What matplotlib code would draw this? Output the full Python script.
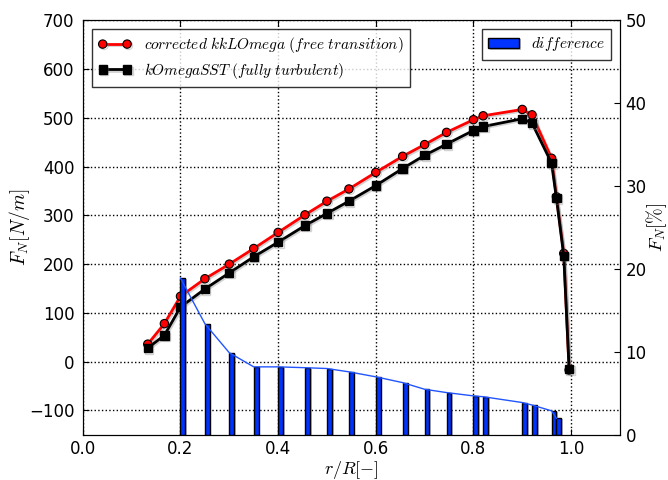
import matplotlib
matplotlib.use("Agg")
import matplotlib.pyplot as plt
import matplotlib.patheffects as pe

plt.rcParams['mathtext.fontset'] = 'cm'
plt.rcParams['font.family'] = ['DejaVu Sans']
plt.rcParams['font.size'] = 12

# Radial stations r/R
r_R = [0.133, 0.167, 0.2, 0.25, 0.3, 0.35, 0.4, 0.455, 0.5, 0.545, 0.6,
       0.655, 0.7, 0.745, 0.8, 0.82, 0.9, 0.92, 0.96, 0.97, 0.985, 0.996]
# Normal force per unit length [N/m]
fn_kkl = [36, 78, 134, 170, 200, 232, 265, 301, 329, 354, 388,
          421, 445, 470, 496, 504, 517, 506, 417, 338, 222, -17]
fn_sst = [28, 54, 112, 149, 182, 215, 245, 279, 304, 329, 361,
          396, 423, 446, 474, 482, 498, 489, 407, 335, 217, -15]

# Relative difference [%] at the stations from r/R = 0.2 on
diff_r_R = [0.2, 0.25, 0.3, 0.35, 0.4, 0.455, 0.5, 0.545, 0.6,
            0.655, 0.7, 0.745, 0.8, 0.82, 0.9, 0.92, 0.96, 0.97]
diff_pct = [18.9, 13.4, 9.9, 8.2, 8.2, 8.1, 8.0, 7.6, 7.0,
            6.3, 5.5, 5.1, 4.7, 4.6, 3.9, 3.6, 2.9, 2.0]

fig = plt.figure(figsize=(6.68, 4.80), dpi=100)
ax = fig.add_axes([0.124, 0.094, 0.804, 0.864])

shadow = [pe.SimpleLineShadow(offset=(1.0, -1.0), shadow_color='gray', alpha=0.35), pe.Normal()]
l1, = ax.plot(r_R, fn_kkl, '-o', color='red', lw=2, ms=6, mfc='red', mec='black', mew=0.8,
              label=r'$corrected\ kkLOmega\ (free\ transition)$', path_effects=shadow)
l2, = ax.plot(r_R, fn_sst, '-s', color='black', lw=2, ms=6, mfc='black', mec='black',
              label=r'$kOmegaSST\ (fully\ turbulent)$', path_effects=shadow)

ax.set_xlim(0, 1.1)
ax.set_ylim(-150, 700)
ax.set_xticks([0.0, 0.2, 0.4, 0.6, 0.8, 1.0])
ax.set_yticks(range(-100, 701, 100))
ax.grid(True, color='black', linestyle=':', linewidth=1)
ax.tick_params(direction='in', top=True, right=False, length=4, pad=6)
ax.tick_params(axis='x', pad=4)
ax.set_xlabel(r'$r/R[-]$', fontsize=13, va='center')
ax.xaxis.set_label_coords(0.5, -0.084)
ax.set_ylabel(r'$F_N[N/m]$', fontsize=14, va='center')
ax.yaxis.set_label_coords(-0.117, 0.5)

leg1 = ax.legend(loc='upper left', numpoints=2, fancybox=False, fontsize=11,
                 handlelength=2.2, labelspacing=0.35, borderpad=0.4,
                 borderaxespad=0.6)
leg1.get_frame().set_edgecolor('black')

ax2 = ax.twinx()
bshadow = [pe.SimplePatchShadow(offset=(1.2, -0.8), shadow_rgbFace='gray', alpha=0.5), pe.Normal()]
bars = ax2.bar(diff_r_R, diff_pct, width=0.01, align='edge', color='#0033ff',
               edgecolor='black', linewidth=1, label=r'$difference$', path_effects=bshadow)
ax2.plot(diff_r_R, diff_pct, '-', color='#2255ff', lw=1)
ax2.set_ylim(0, 50)
ax2.set_yticks(range(0, 51, 10))
ax2.tick_params(direction='in', length=4, pad=4)
ax2.set_ylabel(r'$F_N[\%]$', fontsize=13.5, va='center')
ax2.yaxis.set_label_coords(1.068, 0.5)
leg2 = ax2.legend(handles=[bars], loc='upper right', fancybox=False, fontsize=11,
                  borderpad=0.4, borderaxespad=0.6)
leg2.get_frame().set_edgecolor('black')

fig.savefig('out.png', dpi=100)
